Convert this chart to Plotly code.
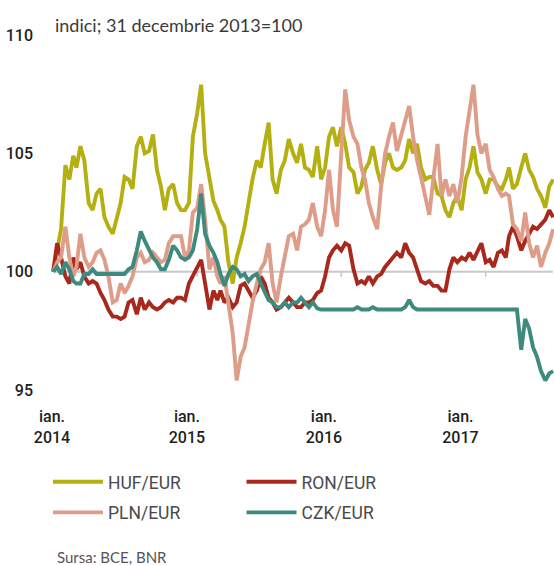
import plotly.graph_objects as go

# ---- data: index values (31 Dec 2013 = 100), read on the 1st, 11th and 21st of each month ----
year_months = [(y, m) for y in range(2014, 2018) for m in range(1, 13) if (y, m) <= (2017, 6)]
dates = [f"{y}-{m:02d}-{d:02d}" for (y, m) in year_months for d in (1, 11, 21)]

huf = [
    100.0, 100.8, 101.8, 104.5, 103.9, 104.9, 104.4, 105.3, 104.7, 102.9, 102.6, 103.3,
    103.5, 102.3, 101.9, 101.6, 102.3, 102.9, 104.0, 103.9, 103.5, 105.3, 105.7, 105.0,
    105.1, 105.8, 104.3, 103.6, 102.6, 103.5, 103.7, 102.9, 102.6, 102.6, 102.9, 105.7,
    106.7, 107.9, 105.0, 103.9, 103.0, 102.6, 102.2, 101.9, 100.4, 99.5, 100.6, 101.2,
    101.9, 102.9, 103.9, 104.7, 104.4, 105.4, 106.3, 103.9, 103.3, 104.3, 104.7, 105.6,
    105.0, 104.6, 105.4, 104.4, 104.3, 104.0, 105.3, 103.9, 104.4, 105.7, 106.1, 105.3,
    106.1, 105.4, 104.4, 104.2, 103.3, 103.6, 104.3, 104.6, 105.3, 104.3, 103.7, 104.6,
    105.0, 104.4, 104.3, 104.4, 104.7, 105.6, 105.0, 105.4, 104.4, 103.9, 104.0, 104.0,
    103.3, 103.2, 102.6, 102.3, 102.9, 103.2, 102.6, 103.9, 104.4, 105.3, 104.2, 103.9,
    103.3, 103.9, 103.9, 103.6, 103.5, 103.9, 104.4, 103.5, 103.7, 104.4, 105.0, 104.3,
    104.0, 103.5, 103.2, 102.7, 103.6, 103.9,
]
ron = [
    100.0, 101.2, 100.6, 99.8, 99.5, 100.6, 100.1, 100.4, 99.8, 99.5, 99.6, 99.5,
    99.1, 98.8, 98.4, 98.1, 98.1, 98.0, 98.1, 98.7, 98.8, 98.2, 98.9, 98.4,
    98.7, 98.5, 98.4, 98.5, 98.7, 98.8, 98.7, 98.9, 98.9, 98.8, 99.5, 99.8,
    100.2, 100.5, 99.5, 98.4, 99.2, 98.8, 99.2, 98.7, 98.9, 98.5, 98.7, 99.4,
    99.5, 99.2, 98.9, 99.2, 99.8, 99.5, 98.9, 98.7, 98.4, 98.5, 98.7, 98.9,
    98.7, 98.5, 98.5, 98.7, 98.7, 98.8, 99.1, 99.2, 99.8, 100.6, 100.9, 101.1,
    100.9, 101.2, 101.1, 100.1, 99.5, 99.6, 99.5, 99.8, 99.5, 99.8, 99.9, 100.2,
    100.4, 100.6, 100.8, 100.6, 101.2, 100.8, 100.6, 100.1, 99.6, 99.5, 99.6, 99.4,
    99.4, 99.2, 99.2, 100.1, 100.6, 100.4, 100.6, 100.5, 100.8, 100.5, 100.9, 101.2,
    100.4, 100.5, 100.2, 100.8, 100.9, 100.6, 101.5, 101.9, 101.5, 100.9, 101.3, 101.6,
    101.9, 101.8, 102.0, 102.2, 102.6, 102.3,
]
pln = [
    100.0, 100.4, 100.6, 101.9, 100.6, 99.8, 100.2, 101.6, 100.6, 100.2, 100.4, 100.8,
    100.9, 100.5, 99.8, 98.7, 98.8, 99.5, 99.1, 99.4, 99.8, 100.6, 100.8, 100.4,
    100.5, 100.8, 100.6, 100.4, 100.5, 101.2, 101.5, 101.5, 101.5, 100.6, 100.9, 102.5,
    102.7, 103.7, 102.2, 100.1, 100.6, 99.8, 99.5, 99.8, 98.7, 97.4, 95.4, 96.4,
    96.8, 97.8, 98.7, 99.5, 100.1, 100.4, 101.2, 99.5, 98.7, 99.8, 100.6, 101.5,
    101.6, 100.9, 101.9, 102.0, 102.2, 102.9, 101.9, 101.5, 102.6, 104.3, 102.6, 101.9,
    105.0, 107.7, 106.4, 105.7, 105.4, 104.4, 103.9, 102.9, 102.3, 101.8, 103.6, 105.0,
    105.7, 106.3, 105.1, 105.8, 106.5, 107.0, 105.7, 104.7, 104.0, 103.2, 102.4, 103.9,
    105.4, 103.2, 103.9, 103.2, 103.7, 102.9, 104.0, 105.7, 106.9, 107.9, 105.8, 105.0,
    105.4, 104.3, 104.0, 103.5, 103.2, 103.3, 103.2, 102.0, 101.8, 101.3, 102.5, 101.2,
    100.6, 101.1, 100.2, 100.8, 101.2, 101.8,
]
czk = [
    100.0, 100.2, 99.9, 100.4, 100.1, 99.6, 99.5, 99.5, 99.9, 99.9, 100.1, 99.9,
    99.9, 99.9, 99.9, 99.9, 99.9, 99.9, 99.9, 100.1, 100.2, 100.9, 101.7, 101.3,
    100.9, 100.6, 100.4, 100.1, 100.1, 100.5, 101.1, 100.9, 100.6, 100.5, 100.6, 100.9,
    101.8, 103.3, 101.6, 101.1, 100.8, 100.4, 99.9, 99.4, 99.9, 100.2, 100.1, 99.8,
    99.9, 99.6, 99.8, 99.9, 99.5, 99.1, 98.8, 98.7, 98.5, 98.5, 98.7, 98.5,
    98.7, 98.7, 98.9, 98.7, 98.5, 98.7, 98.45, 98.4, 98.4, 98.4, 98.4, 98.4,
    98.4, 98.4, 98.4, 98.4, 98.5, 98.4, 98.4, 98.4, 98.5, 98.4, 98.4, 98.4,
    98.4, 98.4, 98.4, 98.4, 98.5, 98.8, 98.5, 98.4, 98.4, 98.4, 98.4, 98.4,
    98.4, 98.4, 98.4, 98.4, 98.4, 98.4, 98.4, 98.4, 98.4, 98.4, 98.4, 98.4,
    98.4, 98.4, 98.4, 98.4, 98.4, 98.4, 98.4, 98.4, 98.4, 96.7, 98.0, 97.6,
    96.8, 96.4, 95.8, 95.4, 95.7, 95.8,
]

series_names = ["HUF/EUR", "RON/EUR", "PLN/EUR", "CZK/EUR"]
series_values = [huf, ron, pln, czk]
series_colors = ["#B5B012", "#A8281D", "#DE9D88", "#3F8A7F"]

x_tick_dates = ["2013-12-29", "2014-12-06", "2015-11-18", "2016-10-29"]
x_tick_text = ["ian.<br>2014", "ian.<br>2015", "ian.<br>2016", "ian.<br>2017"]
y_ticks = [95, 100, 105, 110]
year_starts = ["2015-01-01", "2016-01-01", "2017-01-01"]

TICKF = "Roboto, Liberation Sans, sans-serif"
REG = "Lato, Open Sans, sans-serif"

fig = go.Figure()
legend_ids = ["legend", "legend2", "legend3", "legend4"]
for name, vals, col, lg in zip(series_names, series_values, series_colors, legend_ids):
    fig.add_trace(go.Scatter(x=dates, y=vals, mode="lines", name=name,
                             line=dict(color=col, width=3.9), legend=lg))

leg_pos = {"legend": (-0.004, -0.259), "legend2": (0.38, -0.259),
           "legend3": (-0.004, -0.345), "legend4": (0.38, -0.345)}
leg_layout = {}
for lg, (lx, ly) in leg_pos.items():
    leg_layout[lg] = dict(x=lx, y=ly, xanchor="left", yanchor="middle", orientation="h",
                          itemwidth=50, bgcolor="rgba(0,0,0,0)",
                          font=dict(family=TICKF, size=17.5, color="#4a4a4a"))

fig.update_layout(
    width=554, height=565,
    margin=dict(l=50, r=0, t=35, b=175, autoexpand=False),
    paper_bgcolor="white", plot_bgcolor="white",
    showlegend=True,
    xaxis=dict(type="date", range=["2013-12-24", "2017-06-23"],
               tickvals=x_tick_dates, ticktext=x_tick_text,
               showgrid=False, zeroline=False, showline=False, ticks="",
               ticklabelstandoff=15, automargin=False,
               tickfont=dict(family=TICKF, size=16, color="#1e1e1e", weight=500)),
    yaxis=dict(range=[95, 110], tickvals=y_ticks, showgrid=False, zeroline=False,
               showline=False, ticks="", ticklabelstandoff=16, automargin=False,
               tickfont=dict(family=TICKF, size=16, color="#1e1e1e", weight=500)),
    shapes=[dict(type="line", xref="x", yref="y", x0="2014-01-02", x1="2017-06-20",
                 y0=100, y1=100, line=dict(color="#C8C8C8", width=2), layer="below")]
    + [dict(type="line", xref="x", yref="y", x0=d, x1=d, y0=100, y1=99.78,
            line=dict(color="#C8C8C8", width=1.5), layer="below") for d in year_starts],
    annotations=[
        dict(text="indici; 31 decembrie 2013=100", xref="paper", yref="paper",
             x=0.006, y=1.028, xanchor="left", yanchor="middle", showarrow=False,
             font=dict(family=REG, size=18, color="#3a3a3a")),
        dict(text="Sursa: BCE, BNR", xref="paper", yref="paper",
             x=0.01, y=-0.47, xanchor="left", yanchor="middle", showarrow=False,
             font=dict(family=REG, size=15, color="#555555")),
    ],
    **leg_layout,
)

fig.write_html("out.html", config={"displayModeBar": False},
               post_script="document.body.style.margin='0px';document.body.style.overflow='hidden';")
